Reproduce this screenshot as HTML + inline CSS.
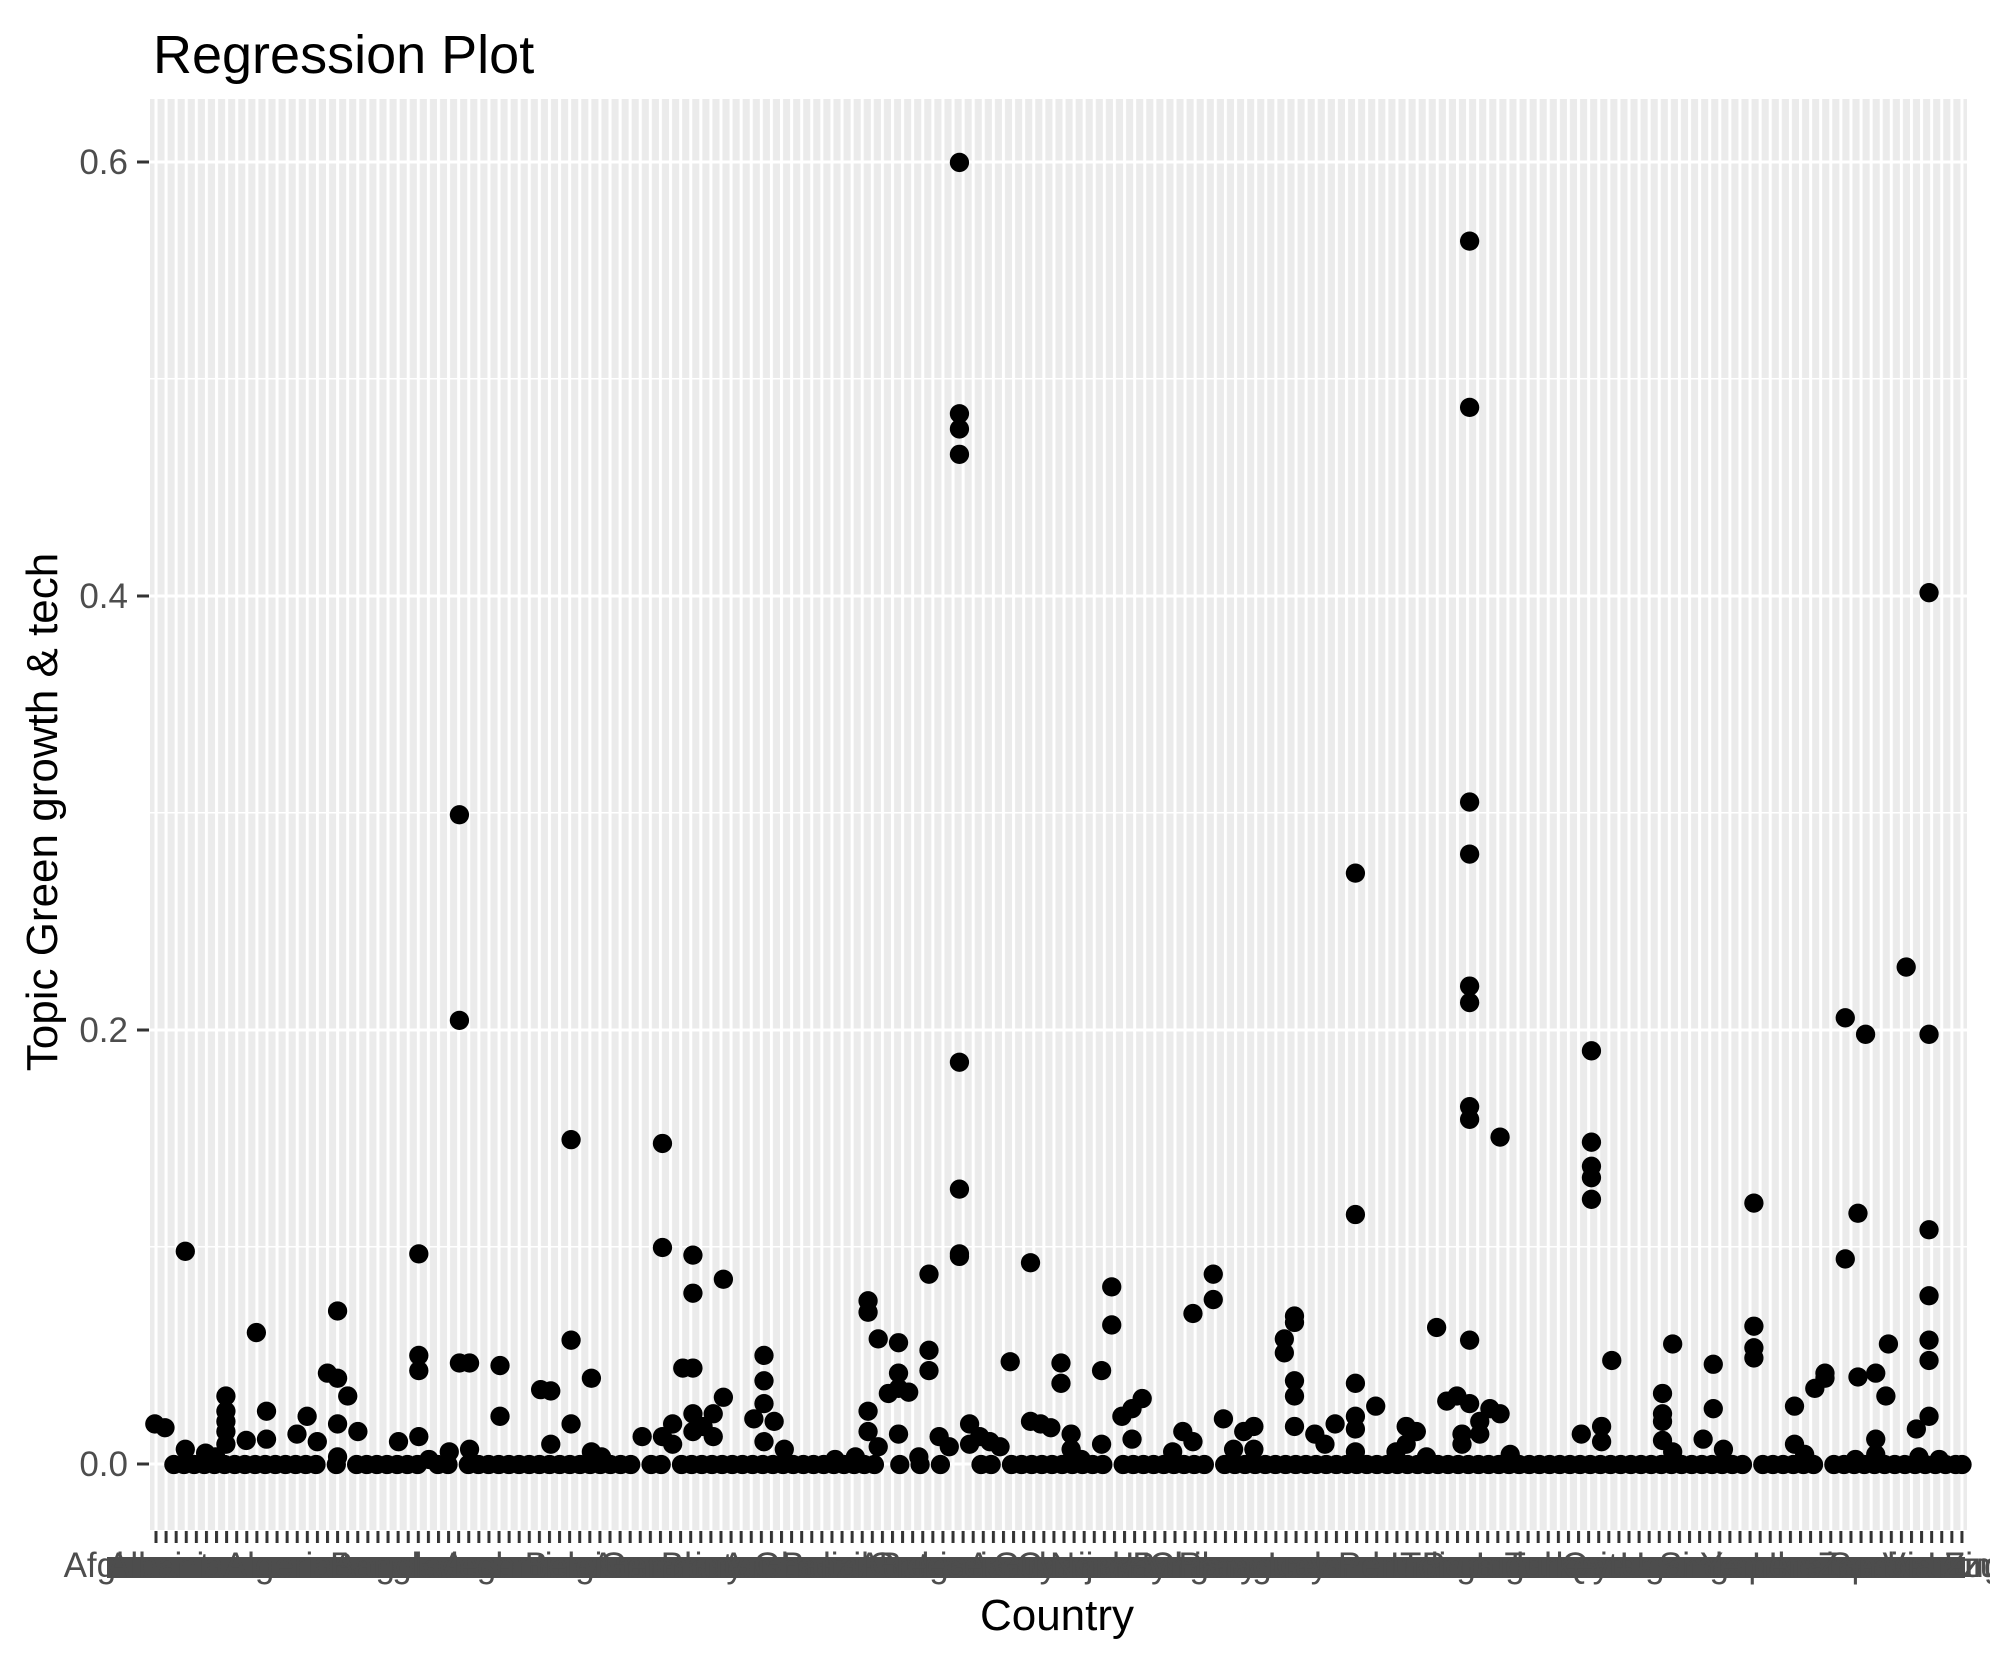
<!DOCTYPE html>
<html><head><meta charset="utf-8"><style>
html,body{margin:0;padding:0;background:#fff;}
svg{display:block;}
text{font-family:"Liberation Sans",Arial,sans-serif;}
</style></head><body>
<svg width="1990" height="1665" viewBox="0 0 1990 1665" xmlns="http://www.w3.org/2000/svg">
<defs>
<pattern id="vg" patternUnits="userSpaceOnUse" x="154.5" y="0" width="10.089" height="20">
<rect x="0" y="0" width="3" height="20" fill="#fff"/>
</pattern>
<pattern id="tk" patternUnits="userSpaceOnUse" x="154.5" y="0" width="10.089" height="20">
<rect x="0" y="0" width="3" height="20" fill="#333"/>
</pattern>
</defs>
<rect x="0" y="0" width="1990" height="1665" fill="#fff"/>
<text x="153" y="73" font-size="54" fill="#000">Regression Plot</text>
<rect x="150" y="99" width="1817" height="1431" fill="#EBEBEB"/>
<g fill="#fff">
<rect x="150" y="378" width="1817" height="1.5"/>
<rect x="150" y="812" width="1817" height="1.5"/>
<rect x="150" y="1246" width="1817" height="1.5"/>
</g>
<rect x="150" y="99" width="1817" height="1431" fill="url(#vg)"/>
<g fill="#fff">
<rect x="150" y="160.5" width="1817" height="3"/>
<rect x="150" y="594.5" width="1817" height="3"/>
<rect x="150" y="1028.5" width="1817" height="3"/>
<rect x="150" y="1462.5" width="1817" height="3"/>
</g>
<g fill="#333">
<rect x="137" y="160.5" width="12" height="3"/>
<rect x="137" y="594.5" width="12" height="3"/>
<rect x="137" y="1028.5" width="12" height="3"/>
<rect x="137" y="1462.5" width="12" height="3"/>
</g>
<rect x="150" y="1531" width="1817" height="12" fill="url(#tk)"/>
<g font-size="35" fill="#4D4D4D" text-anchor="end">
<text x="128" y="174">0.6</text>
<text x="128" y="608">0.4</text>
<text x="128" y="1042">0.2</text>
<text x="128" y="1476">0.0</text>
</g>
<text transform="translate(57,812) rotate(-90)" font-size="44" text-anchor="middle" fill="#000">Topic Green growth &amp; tech</text>
<text x="1057" y="1630" font-size="44" text-anchor="middle" fill="#000">Country</text>
<g font-size="35" fill="#4D4D4D">
<text x="156" y="1577" text-anchor="middle">Afghanistan</text>
<rect x="107" y="1557" width="1858" height="21" fill="#4D4D4D"/>
<text x="107" y="1577">AlbaniaAlgeriaAngolaArgentinaArmeniaAustraliaAustriaAzerbaijanBahamas</text>
<text x="330" y="1577">Bangladesh Belgium Bhutan Brazil Bulgaria Canada Chile</text>
<text x="600" y="1577">Germany Ghana Greece Guyana Hungary Iceland India Indonesia</text>
<text x="1050" y="1577">Norway Paraguay Peru Portugal Qatar Singapore Spain Uruguay</text>
<text x="1400" y="1577">Tonga Turkey Uganda Ukraine Venezuela Vietnam</text>
<text x="1700" y="1577">Yemen Zambia Zimbabwe Tuvalu Samoa Italy</text>
</g>
<g transform="scale(1.2691)" fill="#000">
<circle cx="137" cy="1154" r="7.6"/><circle cx="145" cy="1154" r="7.6"/><circle cx="153" cy="1154" r="7.6"/><circle cx="161" cy="1154" r="7.6"/><circle cx="169" cy="1154" r="7.6"/><circle cx="177" cy="1154" r="7.6"/><circle cx="185" cy="1154" r="7.6"/><circle cx="193" cy="1154" r="7.6"/><circle cx="201" cy="1154" r="7.6"/><circle cx="209" cy="1154" r="7.6"/><circle cx="217" cy="1154" r="7.6"/><circle cx="225" cy="1154" r="7.6"/><circle cx="233" cy="1154" r="7.6"/><circle cx="241" cy="1154" r="7.6"/><circle cx="249" cy="1154" r="7.6"/><circle cx="265" cy="1154" r="7.6"/><circle cx="281" cy="1154" r="7.6"/><circle cx="289" cy="1154" r="7.6"/><circle cx="297" cy="1154" r="7.6"/><circle cx="305" cy="1154" r="7.6"/><circle cx="313" cy="1154" r="7.6"/><circle cx="321" cy="1154" r="7.6"/><circle cx="329" cy="1154" r="7.6"/><circle cx="345" cy="1154" r="7.6"/><circle cx="353" cy="1154" r="7.6"/><circle cx="369" cy="1154" r="7.6"/><circle cx="377" cy="1154" r="7.6"/><circle cx="385" cy="1154" r="7.6"/><circle cx="393" cy="1154" r="7.6"/><circle cx="401" cy="1154" r="7.6"/><circle cx="409" cy="1154" r="7.6"/><circle cx="417" cy="1154" r="7.6"/><circle cx="425" cy="1154" r="7.6"/><circle cx="433" cy="1154" r="7.6"/><circle cx="441" cy="1154" r="7.6"/><circle cx="449" cy="1154" r="7.6"/><circle cx="457" cy="1154" r="7.6"/><circle cx="465" cy="1154" r="7.6"/><circle cx="473" cy="1154" r="7.6"/><circle cx="481" cy="1154" r="7.6"/><circle cx="489" cy="1154" r="7.6"/><circle cx="497" cy="1154" r="7.6"/><circle cx="513" cy="1154" r="7.6"/><circle cx="521" cy="1154" r="7.6"/><circle cx="537" cy="1154" r="7.6"/><circle cx="545" cy="1154" r="7.6"/><circle cx="553" cy="1154" r="7.6"/><circle cx="561" cy="1154" r="7.6"/><circle cx="569" cy="1154" r="7.6"/><circle cx="577" cy="1154" r="7.6"/><circle cx="585" cy="1154" r="7.6"/><circle cx="593" cy="1154" r="7.6"/><circle cx="601" cy="1154" r="7.6"/><circle cx="609" cy="1154" r="7.6"/><circle cx="617" cy="1154" r="7.6"/><circle cx="625" cy="1154" r="7.6"/><circle cx="633" cy="1154" r="7.6"/><circle cx="641" cy="1154" r="7.6"/><circle cx="649" cy="1154" r="7.6"/><circle cx="657" cy="1154" r="7.6"/><circle cx="665" cy="1154" r="7.6"/><circle cx="673" cy="1154" r="7.6"/><circle cx="681" cy="1154" r="7.6"/><circle cx="689" cy="1154" r="7.6"/><circle cx="709" cy="1154" r="7.6"/><circle cx="725" cy="1154" r="7.6"/><circle cx="741" cy="1154" r="7.6"/><circle cx="773" cy="1154" r="7.6"/><circle cx="781" cy="1154" r="7.6"/><circle cx="797" cy="1154" r="7.6"/><circle cx="805" cy="1154" r="7.6"/><circle cx="813" cy="1154" r="7.6"/><circle cx="821" cy="1154" r="7.6"/><circle cx="829" cy="1154" r="7.6"/><circle cx="837" cy="1154" r="7.6"/><circle cx="845" cy="1154" r="7.6"/><circle cx="853" cy="1154" r="7.6"/><circle cx="861" cy="1154" r="7.6"/><circle cx="869" cy="1154" r="7.6"/><circle cx="885" cy="1154" r="7.6"/><circle cx="893" cy="1154" r="7.6"/><circle cx="901" cy="1154" r="7.6"/><circle cx="909" cy="1154" r="7.6"/><circle cx="917" cy="1154" r="7.6"/><circle cx="925" cy="1154" r="7.6"/><circle cx="933" cy="1154" r="7.6"/><circle cx="941" cy="1154" r="7.6"/><circle cx="949" cy="1154" r="7.6"/><circle cx="965" cy="1154" r="7.6"/><circle cx="973" cy="1154" r="7.6"/><circle cx="981" cy="1154" r="7.6"/><circle cx="989" cy="1154" r="7.6"/><circle cx="997" cy="1154" r="7.6"/><circle cx="1005" cy="1154" r="7.6"/><circle cx="1013" cy="1154" r="7.6"/><circle cx="1021" cy="1154" r="7.6"/><circle cx="1029" cy="1154" r="7.6"/><circle cx="1037" cy="1154" r="7.6"/><circle cx="1045" cy="1154" r="7.6"/><circle cx="1053" cy="1154" r="7.6"/><circle cx="1061" cy="1154" r="7.6"/><circle cx="1069" cy="1154" r="7.6"/><circle cx="1077" cy="1154" r="7.6"/><circle cx="1085" cy="1154" r="7.6"/><circle cx="1093" cy="1154" r="7.6"/><circle cx="1101" cy="1154" r="7.6"/><circle cx="1109" cy="1154" r="7.6"/><circle cx="1117" cy="1154" r="7.6"/><circle cx="1125" cy="1154" r="7.6"/><circle cx="1133" cy="1154" r="7.6"/><circle cx="1141" cy="1154" r="7.6"/><circle cx="1149" cy="1154" r="7.6"/><circle cx="1157" cy="1154" r="7.6"/><circle cx="1165" cy="1154" r="7.6"/><circle cx="1173" cy="1154" r="7.6"/><circle cx="1181" cy="1154" r="7.6"/><circle cx="1189" cy="1154" r="7.6"/><circle cx="1197" cy="1154" r="7.6"/><circle cx="1205" cy="1154" r="7.6"/><circle cx="1213" cy="1154" r="7.6"/><circle cx="1221" cy="1154" r="7.6"/><circle cx="1229" cy="1154" r="7.6"/><circle cx="1237" cy="1154" r="7.6"/><circle cx="1245" cy="1154" r="7.6"/><circle cx="1253" cy="1154" r="7.6"/><circle cx="1261" cy="1154" r="7.6"/><circle cx="1269" cy="1154" r="7.6"/><circle cx="1277" cy="1154" r="7.6"/><circle cx="1285" cy="1154" r="7.6"/><circle cx="1293" cy="1154" r="7.6"/><circle cx="1301" cy="1154" r="7.6"/><circle cx="1309" cy="1154" r="7.6"/><circle cx="1317" cy="1154" r="7.6"/><circle cx="1325" cy="1154" r="7.6"/><circle cx="1333" cy="1154" r="7.6"/><circle cx="1341" cy="1154" r="7.6"/><circle cx="1349" cy="1154" r="7.6"/><circle cx="1357" cy="1154" r="7.6"/><circle cx="1365" cy="1154" r="7.6"/><circle cx="1373" cy="1154" r="7.6"/><circle cx="1389" cy="1154" r="7.6"/><circle cx="1397" cy="1154" r="7.6"/><circle cx="1405" cy="1154" r="7.6"/><circle cx="1413" cy="1154" r="7.6"/><circle cx="1421" cy="1154" r="7.6"/><circle cx="1429" cy="1154" r="7.6"/><circle cx="1445" cy="1154" r="7.6"/><circle cx="1453" cy="1154" r="7.6"/><circle cx="1461" cy="1154" r="7.6"/><circle cx="1469" cy="1154" r="7.6"/><circle cx="1477" cy="1154" r="7.6"/><circle cx="1485" cy="1154" r="7.6"/><circle cx="1493" cy="1154" r="7.6"/><circle cx="1501" cy="1154" r="7.6"/><circle cx="1509" cy="1154" r="7.6"/><circle cx="1517" cy="1154" r="7.6"/><circle cx="1525" cy="1154" r="7.6"/><circle cx="1533" cy="1154" r="7.6"/><circle cx="1541" cy="1154" r="7.6"/><circle cx="1546" cy="1154" r="7.6"/>
<circle cx="122" cy="1122" r="7.6"/><circle cx="130" cy="1125" r="7.6"/><circle cx="146" cy="986" r="7.6"/><circle cx="146" cy="1142" r="7.6"/><circle cx="162" cy="1145" r="7.6"/><circle cx="170" cy="1148" r="7.6"/><circle cx="178" cy="1128" r="7.6"/><circle cx="178" cy="1120" r="7.6"/><circle cx="178" cy="1112" r="7.6"/><circle cx="178" cy="1100" r="7.6"/><circle cx="178" cy="1138" r="7.6"/><circle cx="194" cy="1135" r="7.6"/><circle cx="202" cy="1050" r="7.6"/><circle cx="210" cy="1112" r="7.6"/><circle cx="210" cy="1134" r="7.6"/><circle cx="234" cy="1130" r="7.6"/><circle cx="242" cy="1116" r="7.6"/><circle cx="250" cy="1136" r="7.6"/><circle cx="258" cy="1082" r="7.6"/><circle cx="266" cy="1086" r="7.6"/><circle cx="266" cy="1033" r="7.6"/><circle cx="266" cy="1122" r="7.6"/><circle cx="266" cy="1148" r="7.6"/><circle cx="274" cy="1100" r="7.6"/><circle cx="282" cy="1128" r="7.6"/><circle cx="314" cy="1136" r="7.6"/><circle cx="330" cy="988" r="7.6"/><circle cx="330" cy="1068" r="7.6"/><circle cx="330" cy="1080" r="7.6"/><circle cx="330" cy="1132" r="7.6"/><circle cx="338" cy="1150" r="7.6"/><circle cx="354" cy="1144" r="7.6"/><circle cx="362" cy="642" r="7.6"/><circle cx="362" cy="804" r="7.6"/><circle cx="362" cy="1074" r="7.6"/><circle cx="370" cy="1074" r="7.6"/><circle cx="370" cy="1142" r="7.6"/><circle cx="394" cy="1076" r="7.6"/><circle cx="394" cy="1116" r="7.6"/><circle cx="426" cy="1095" r="7.6"/><circle cx="434" cy="1096" r="7.6"/><circle cx="434" cy="1138" r="7.6"/><circle cx="450" cy="898" r="7.6"/><circle cx="450" cy="1056" r="7.6"/><circle cx="450" cy="1122" r="7.6"/><circle cx="466" cy="1086" r="7.6"/><circle cx="466" cy="1144" r="7.6"/><circle cx="474" cy="1148" r="7.6"/><circle cx="506" cy="1132" r="7.6"/><circle cx="522" cy="901" r="7.6"/><circle cx="522" cy="983" r="7.6"/><circle cx="522" cy="1132" r="7.6"/><circle cx="530" cy="1122" r="7.6"/><circle cx="530" cy="1138" r="7.6"/><circle cx="538" cy="1078" r="7.6"/><circle cx="546" cy="989" r="7.6"/><circle cx="546" cy="1019" r="7.6"/><circle cx="546" cy="1078" r="7.6"/><circle cx="546" cy="1114" r="7.6"/><circle cx="546" cy="1128" r="7.6"/><circle cx="554" cy="1124" r="7.6"/><circle cx="562" cy="1114" r="7.6"/><circle cx="562" cy="1132" r="7.6"/><circle cx="570" cy="1008" r="7.6"/><circle cx="570" cy="1101" r="7.6"/><circle cx="594" cy="1118" r="7.6"/><circle cx="602" cy="1068" r="7.6"/><circle cx="602" cy="1088" r="7.6"/><circle cx="602" cy="1106" r="7.6"/><circle cx="602" cy="1136" r="7.6"/><circle cx="610" cy="1120" r="7.6"/><circle cx="618" cy="1142" r="7.6"/><circle cx="658" cy="1150" r="7.6"/><circle cx="674" cy="1148" r="7.6"/><circle cx="684" cy="1025" r="7.6"/><circle cx="684" cy="1034" r="7.6"/><circle cx="684" cy="1112" r="7.6"/><circle cx="684" cy="1128" r="7.6"/><circle cx="692" cy="1055" r="7.6"/><circle cx="692" cy="1140" r="7.6"/><circle cx="700" cy="1098" r="7.6"/><circle cx="708" cy="1058" r="7.6"/><circle cx="708" cy="1082" r="7.6"/><circle cx="708" cy="1094" r="7.6"/><circle cx="708" cy="1130" r="7.6"/><circle cx="716" cy="1097" r="7.6"/><circle cx="724" cy="1148" r="7.6"/><circle cx="732" cy="1004" r="7.6"/><circle cx="732" cy="1064" r="7.6"/><circle cx="732" cy="1080" r="7.6"/><circle cx="740" cy="1132" r="7.6"/><circle cx="748" cy="1140" r="7.6"/><circle cx="756" cy="128" r="7.6"/><circle cx="756" cy="326" r="7.6"/><circle cx="756" cy="338" r="7.6"/><circle cx="756" cy="358" r="7.6"/><circle cx="756" cy="837" r="7.6"/><circle cx="756" cy="937" r="7.6"/><circle cx="756" cy="990" r="7.6"/><circle cx="756" cy="988" r="7.6"/><circle cx="764" cy="1122" r="7.6"/><circle cx="764" cy="1138" r="7.6"/><circle cx="772" cy="1132" r="7.6"/><circle cx="780" cy="1136" r="7.6"/><circle cx="788" cy="1140" r="7.6"/><circle cx="796" cy="1073" r="7.6"/><circle cx="812" cy="995" r="7.6"/><circle cx="812" cy="1120" r="7.6"/><circle cx="820" cy="1122" r="7.6"/><circle cx="828" cy="1125" r="7.6"/><circle cx="836" cy="1074" r="7.6"/><circle cx="836" cy="1090" r="7.6"/><circle cx="844" cy="1130" r="7.6"/><circle cx="844" cy="1142" r="7.6"/><circle cx="852" cy="1150" r="7.6"/><circle cx="868" cy="1080" r="7.6"/><circle cx="868" cy="1138" r="7.6"/><circle cx="876" cy="1014" r="7.6"/><circle cx="876" cy="1044" r="7.6"/><circle cx="884" cy="1116" r="7.6"/><circle cx="892" cy="1110" r="7.6"/><circle cx="900" cy="1102" r="7.6"/><circle cx="892" cy="1134" r="7.6"/><circle cx="924" cy="1144" r="7.6"/><circle cx="932" cy="1128" r="7.6"/><circle cx="940" cy="1136" r="7.6"/><circle cx="940" cy="1035" r="7.6"/><circle cx="956" cy="1004" r="7.6"/><circle cx="956" cy="1024" r="7.6"/><circle cx="964" cy="1118" r="7.6"/><circle cx="980" cy="1128" r="7.6"/><circle cx="988" cy="1124" r="7.6"/><circle cx="972" cy="1142" r="7.6"/><circle cx="988" cy="1142" r="7.6"/><circle cx="1012" cy="1055" r="7.6"/><circle cx="1012" cy="1066" r="7.6"/><circle cx="1020" cy="1037" r="7.6"/><circle cx="1020" cy="1042" r="7.6"/><circle cx="1020" cy="1088" r="7.6"/><circle cx="1020" cy="1100" r="7.6"/><circle cx="1020" cy="1124" r="7.6"/><circle cx="1036" cy="1130" r="7.6"/><circle cx="1044" cy="1138" r="7.6"/><circle cx="1052" cy="1122" r="7.6"/><circle cx="1068" cy="688" r="7.6"/><circle cx="1068" cy="957" r="7.6"/><circle cx="1068" cy="1090" r="7.6"/><circle cx="1068" cy="1116" r="7.6"/><circle cx="1068" cy="1126" r="7.6"/><circle cx="1068" cy="1144" r="7.6"/><circle cx="1084" cy="1108" r="7.6"/><circle cx="1100" cy="1144" r="7.6"/><circle cx="1108" cy="1124" r="7.6"/><circle cx="1108" cy="1138" r="7.6"/><circle cx="1116" cy="1128" r="7.6"/><circle cx="1124" cy="1148" r="7.6"/><circle cx="1132" cy="1046" r="7.6"/><circle cx="1140" cy="1104" r="7.6"/><circle cx="1148" cy="1100" r="7.6"/><circle cx="1152" cy="1130" r="7.6"/><circle cx="1152" cy="1138" r="7.6"/><circle cx="1158" cy="190" r="7.6"/><circle cx="1158" cy="321" r="7.6"/><circle cx="1158" cy="632" r="7.6"/><circle cx="1158" cy="673" r="7.6"/><circle cx="1158" cy="777" r="7.6"/><circle cx="1158" cy="790" r="7.6"/><circle cx="1158" cy="872" r="7.6"/><circle cx="1158" cy="882" r="7.6"/><circle cx="1158" cy="1056" r="7.6"/><circle cx="1158" cy="1106" r="7.6"/><circle cx="1166" cy="1120" r="7.6"/><circle cx="1166" cy="1130" r="7.6"/><circle cx="1174" cy="1110" r="7.6"/><circle cx="1182" cy="896" r="7.6"/><circle cx="1182" cy="1114" r="7.6"/><circle cx="1190" cy="1146" r="7.6"/><circle cx="1246" cy="1130" r="7.6"/><circle cx="1254" cy="828" r="7.6"/><circle cx="1254" cy="900" r="7.6"/><circle cx="1254" cy="919" r="7.6"/><circle cx="1254" cy="928" r="7.6"/><circle cx="1254" cy="945" r="7.6"/><circle cx="1262" cy="1124" r="7.6"/><circle cx="1262" cy="1136" r="7.6"/><circle cx="1270" cy="1072" r="7.6"/><circle cx="1310" cy="1098" r="7.6"/><circle cx="1310" cy="1114" r="7.6"/><circle cx="1310" cy="1120" r="7.6"/><circle cx="1310" cy="1135" r="7.6"/><circle cx="1318" cy="1144" r="7.6"/><circle cx="1318" cy="1059" r="7.6"/><circle cx="1342" cy="1134" r="7.6"/><circle cx="1350" cy="1075" r="7.6"/><circle cx="1350" cy="1110" r="7.6"/><circle cx="1358" cy="1142" r="7.6"/><circle cx="1382" cy="948" r="7.6"/><circle cx="1382" cy="1045" r="7.6"/><circle cx="1382" cy="1062" r="7.6"/><circle cx="1382" cy="1070" r="7.6"/><circle cx="1414" cy="1108" r="7.6"/><circle cx="1414" cy="1138" r="7.6"/><circle cx="1422" cy="1146" r="7.6"/><circle cx="1430" cy="1094" r="7.6"/><circle cx="1438" cy="1082" r="7.6"/><circle cx="1438" cy="1086" r="7.6"/><circle cx="1454" cy="802" r="7.6"/><circle cx="1454" cy="992" r="7.6"/><circle cx="1462" cy="1150" r="7.6"/><circle cx="1464" cy="956" r="7.6"/><circle cx="1464" cy="1085" r="7.6"/><circle cx="1470" cy="815" r="7.6"/><circle cx="1478" cy="1082" r="7.6"/><circle cx="1478" cy="1134" r="7.6"/><circle cx="1478" cy="1146" r="7.6"/><circle cx="1486" cy="1100" r="7.6"/><circle cx="1488" cy="1059" r="7.6"/><circle cx="1502" cy="762" r="7.6"/><circle cx="1510" cy="1126" r="7.6"/><circle cx="1520" cy="467" r="7.6"/><circle cx="1520" cy="815" r="7.6"/><circle cx="1520" cy="969" r="7.6"/><circle cx="1520" cy="1021" r="7.6"/><circle cx="1520" cy="1056" r="7.6"/><circle cx="1520" cy="1072" r="7.6"/><circle cx="1520" cy="1116" r="7.6"/><circle cx="1512" cy="1148" r="7.6"/><circle cx="1528" cy="1150" r="7.6"/>
</g>
</svg>
</body></html>
